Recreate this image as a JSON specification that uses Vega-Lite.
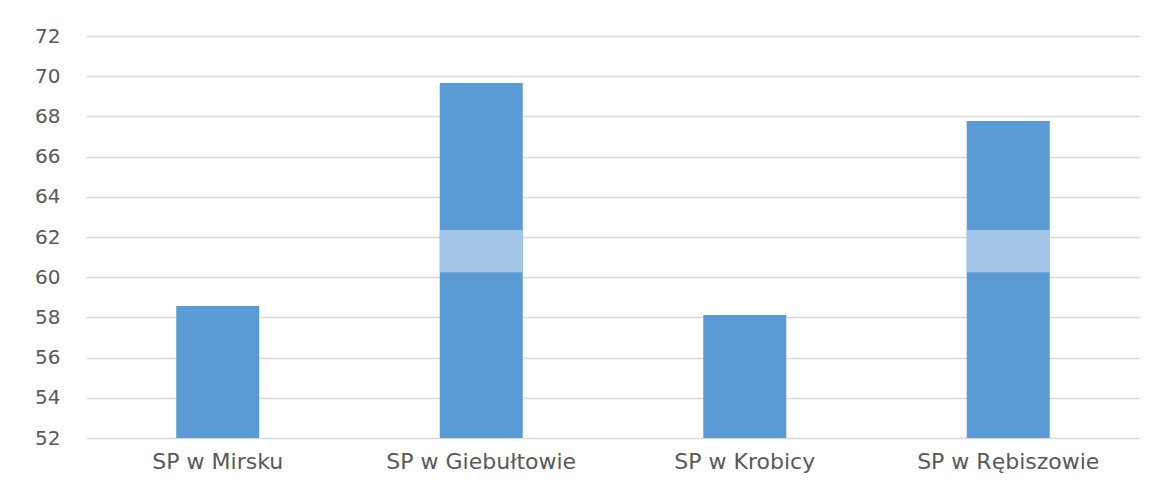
{
  "$schema": "https://vega.github.io/schema/vega-lite/v6.json",
  "width": 1054,
  "height": 402,
  "autosize": {"type": "none"},
  "padding": {"left": 86, "top": 36, "right": 21, "bottom": 45},
  "background": "white",
  "config": {"view": {"stroke": null}, "font": "DejaVu Sans"},
  "data": {
    "values": [
      {"school": "SP w Mirsku", "value": 58.57, "band_lo": null, "band_hi": null},
      {"school": "SP w Giebułtowie", "value": 69.66, "band_lo": 60.25, "band_hi": 62.35},
      {"school": "SP w Krobicy", "value": 58.12, "band_lo": null, "band_hi": null},
      {"school": "SP w Rębiszowie", "value": 67.77, "band_lo": 60.25, "band_hi": 62.35}
    ]
  },
  "encoding": {
    "x": {
      "field": "school",
      "type": "nominal",
      "sort": null,
      "scale": {"paddingInner": 0.685, "paddingOuter": 0.3425},
      "axis": {
        "title": null,
        "labelAngle": 0,
        "ticks": false,
        "domain": false,
        "labelFont": "DejaVu Sans",
        "labelFontSize": 22,
        "labelColor": "#595959",
        "labelPadding": 13,
        "labelLimit": 0,
        "labelOverlap": false
      }
    }
  },
  "layer": [
    {
      "mark": {"type": "bar", "color": "#5B9BD5"},
      "encoding": {
        "y": {
          "field": "value",
          "type": "quantitative",
          "scale": {"domain": [52, 72], "zero": false, "nice": false},
          "axis": {
            "title": null,
            "values": [52, 54, 56, 58, 60, 62, 64, 66, 68, 70, 72],
            "ticks": false,
            "domain": false,
            "grid": true,
            "gridColor": "#D9D9D9",
            "gridWidth": 1.5,
            "labelFont": "DejaVu Sans",
            "labelFontSize": 20,
            "labelColor": "#595959",
            "labelPadding": 26
          }
        },
        "y2": {"datum": 52}
      }
    },
    {
      "transform": [{"filter": "datum.band_lo != null"}],
      "mark": {"type": "bar", "color": "#A4C6E8"},
      "encoding": {
        "y": {"field": "band_hi", "type": "quantitative"},
        "y2": {"field": "band_lo"}
      }
    }
  ]
}
